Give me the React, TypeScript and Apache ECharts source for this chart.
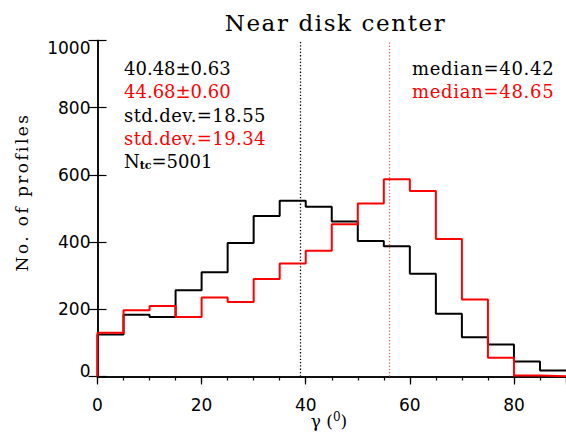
import React, { useEffect, useRef } from "react";
import * as echarts from "echarts";

// ---- data ----
const binStarts = [0, 5, 10, 15, 20, 25, 30, 35, 40, 45, 50, 55, 60, 65, 70, 75, 80, 85];
const binWidth = 5;
const blackCounts = [125, 184, 177, 257, 310, 397, 478, 523, 505, 461, 403, 388, 306, 187, 117, 95, 45, 18];
const redCounts = [130, 197, 210, 177, 235, 222, 290, 336, 374, 453, 515, 587, 552, 409, 229, 56, 3, 1];
const blackMarker = 39;
const redMarker = 56;
const xMin = 0;
const xMax = 90;
const xInterval = 20;
const yMin = 0;
const yMax = 1000;
const yInterval = 200;

const titleText = "Near disk center";
const yTitle = "No. of profiles";
const xTitleMain = "γ (";
const xTitleSup = "0";
const xTitleEnd = ")";
const leftNotes = [
  { text: "40.48±0.63", color: "#000" },
  { text: "44.68±0.60", color: "#ff0000" },
  { text: "std.dev.=18.55", color: "#000" },
  { text: "std.dev.=19.34", color: "#ff0000" },
];
const rightNotes = [
  { text: "median=40.42", color: "#000" },
  { text: "median=48.65", color: "#ff0000" },
];
const countText = "5001";

const SERIF = '"DejaVu Serif"';

// extra letter spacing (px) to mimic the wide vector font of the original
const spacing: Record<string, number> = {
  [titleText]: 1.6,
  [yTitle]: 2.4,
  "median=40.42": 0.7,
  "median=48.65": 0.7,
  "std.dev.=18.55": 0.4,
  "std.dev.=19.34": 0.4,
};

function stepData(counts: number[]) {
  const pts: number[][] = [[binStarts[0], 0]];
  binStarts.forEach((s, i) => pts.push([s, counts[i]]));
  const last = binStarts.length - 1;
  pts.push([binStarts[last] + binWidth, counts[last]]);
  return pts;
}

function txt(text: string, x: number, y: number, color: string, size: number, family: string, align = "left", rotation = 0) {
  return {
    type: "text",
    x,
    y,
    rotation,
    silent: true,
    style: {
      text,
      fill: color,
      font: `${size}px ${family}`,
      textAlign: align,
      textVerticalAlign: "middle",
    },
  };
}

export default function App() {
  const ref = useRef<HTMLDivElement>(null);
  useEffect(() => {
    if (!ref.current) return;
    const el = ref.current;
    const chart = echarts.init(el, null, { renderer: "svg" });
    const gridLeft = 97.5;
    const gridTop = 40.5;
    const gridW = 471.5;
    const gridH = 336;
    const lineY0 = 68.5;
    const lineDy = 23.3;

    const graphic: any[] = [
      txt(titleText, 335.5, 22.5, "#000", 23, SERIF, "center"),
      txt(yTitle, 21.5, 192, "#000", 17, SERIF, "center", Math.PI / 2),
    ];
    graphic.push({
      type: "text",
      x: 329,
      y: 420,
      silent: true,
      style: {
        text: `{a|${xTitleMain}}{s|${xTitleSup}}{a|${xTitleEnd}}`,
        textVerticalAlign: "middle",
        textAlign: "center",
        rich: {
          a: { fontSize: 17, fontFamily: "DejaVu Serif", fill: "#000", lineHeight: 18, verticalAlign: "bottom" },
          s: { fontSize: 12, fontFamily: "DejaVu Serif", fill: "#000", lineHeight: 12, verticalAlign: "top" },
        },
      },
    });
    leftNotes.forEach((n, i) => graphic.push(txt(n.text, 124, lineY0 + i * lineDy, n.color, 18, SERIF, "left")));
    rightNotes.forEach((n, i) => graphic.push(txt(n.text, 412, lineY0 + i * lineDy, n.color, 18, SERIF, "left")));
    graphic.push({
      type: "text",
      x: 124,
      y: lineY0 + 4 * lineDy,
      silent: true,
      style: {
        text: `{a|N}{s|tc}{a|=${countText}}`,
        textVerticalAlign: "middle",
        textAlign: "left",
        rich: {
          a: { fontSize: 18, fontFamily: "DejaVu Serif", fill: "#000", lineHeight: 18, verticalAlign: "top" },
          s: { fontSize: 11, fontFamily: "DejaVu Serif", fontWeight: "bold", fill: "#000", lineHeight: 8, verticalAlign: "bottom" },
        },
      },
    });

    const axisLine = { show: true, lineStyle: { color: "#000", width: 1.5 } };

    chart.setOption({
      animation: false,
      backgroundColor: "#fff",
      grid: { left: gridLeft, top: gridTop, width: gridW, height: gridH, containLabel: false },
      xAxis: [
        {
          type: "value",
          position: "bottom",
          min: xMin,
          max: xMax,
          interval: xInterval,
          axisLine,
          axisTick: { show: true, inside: false, length: 8, lineStyle: { color: "#000", width: 1.2 } },
          minorTick: { show: true, splitNumber: 4, length: 4, lineStyle: { color: "#000", width: 1.2 } },
          splitLine: { show: false },
          minorSplitLine: { show: false },
          axisLabel: {
            show: true,
            margin: 20,
            color: "#000",
            fontSize: 17,
            fontFamily: "DejaVu Sans",
            showMaxLabel: false,
          },
        },
        {
          type: "value",
          position: "top",
          min: xMin,
          max: xMax,
          interval: xInterval,
          axisLine,
          axisTick: { show: true, inside: true, length: 6, lineStyle: { color: "#000", width: 1.2 } },
          splitLine: { show: false },
          axisLabel: { show: false },
        },
      ],
      yAxis: [
        {
          type: "value",
          position: "left",
          min: yMin,
          max: yMax,
          interval: yInterval,
          axisLine,
          axisTick: { show: true, inside: true, length: 9, lineStyle: { color: "#000", width: 1.2 } },
          splitLine: { show: false },
          axisLabel: {
            show: true,
            margin: 7,
            color: "#000",
            fontSize: 17,
            fontFamily: "DejaVu Sans",
            formatter: (v: number) => (v === yMin ? `{b|${v}}` : v === yMax ? `{t|${v}}` : `${v}`),
            rich: {
              b: { fontSize: 17, fontFamily: "DejaVu Sans", color: "#000", padding: [0, 0, 11, 0] },
              t: { fontSize: 17, fontFamily: "DejaVu Sans", color: "#000", padding: [15, 0, 0, 0] },
            },
          },
        },
        {
          type: "value",
          position: "right",
          min: yMin,
          max: yMax,
          interval: yInterval,
          axisLine,
          axisTick: { show: true, inside: true, length: 9, lineStyle: { color: "#000", width: 1.2 } },
          splitLine: { show: false },
          axisLabel: { show: false },
        },
      ],
      series: [
        {
          type: "line",
          step: "end",
          xAxisIndex: 0,
          yAxisIndex: 0,
          data: stepData(blackCounts),
          symbol: "none",
          lineStyle: { color: "#000", width: 2 },
          silent: true,
          markLine: {
            silent: true,
            symbol: ["none", "none"],
            label: { show: false },
            lineStyle: { color: "#000", width: 1.3, type: [1.3, 2] },
            data: [{ xAxis: blackMarker }],
          },
        },
        {
          type: "line",
          step: "end",
          xAxisIndex: 0,
          yAxisIndex: 0,
          data: stepData(redCounts),
          symbol: "none",
          lineStyle: { color: "#ff0000", width: 2 },
          silent: true,
          markLine: {
            silent: true,
            symbol: ["none", "none"],
            label: { show: false },
            lineStyle: { color: "#ff3030", width: 1.2, type: [1.2, 2], opacity: 0.85 },
            data: [{ xAxis: redMarker }],
          },
        },
      ],
      graphic,
    });

    const applySpacing = () => {
      el.querySelectorAll("text").forEach((t) => {
        const s = spacing[(t.textContent || "").trim()];
        if (s) t.setAttribute("letter-spacing", String(s));
      });
    };
    applySpacing();
    chart.on("finished", applySpacing);
    const raf = requestAnimationFrame(applySpacing);
    return () => {
      cancelAnimationFrame(raf);
      chart.dispose();
    };
  }, []);
  return <div ref={ref} style={{ position: "fixed", left: 0, top: 0, width: 566, height: 441, background: "#fff" }} />;
}
